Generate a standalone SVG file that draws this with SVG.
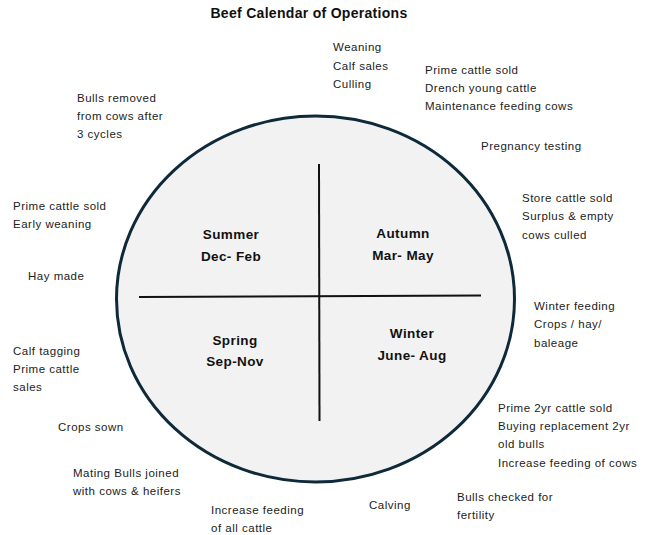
<svg xmlns="http://www.w3.org/2000/svg" width="646" height="535" viewBox="0 0 646 535">
<style>
.t{font-family:"Liberation Sans",Arial,sans-serif;font-size:11.5px;letter-spacing:0.5px;fill:#222}
.s{font-family:"Liberation Sans",Arial,sans-serif;font-size:13.5px;letter-spacing:0.4px;font-weight:bold;fill:#111;text-anchor:middle}
.h{font-family:"Liberation Sans",Arial,sans-serif;font-size:14px;letter-spacing:0.3px;font-weight:bold;fill:#111;text-anchor:middle}
.ln{stroke:#111;stroke-width:2;fill:none}
</style>
<rect width="646" height="535" fill="#ffffff"/>
<text class="h" x="309" y="18">Beef Calendar of Operations</text>
<g id="wheel">
<ellipse cx="315.5" cy="299" rx="199" ry="183" fill="#f2f2f2" stroke="#0e2a3a" stroke-width="3"/>
</g>
<g id="connectors">
<line class="ln" x1="139" y1="297" x2="481" y2="295.5"/>
<line class="ln" x1="319" y1="164" x2="319.5" y2="421"/>
</g>
<g id="summer"><text class="s" x="231" y="239">Summer</text><text class="s" x="231" y="261">Dec- Feb</text></g>
<g id="autumn"><text class="s" x="403" y="238">Autumn</text><text class="s" x="403" y="260">Mar- May</text></g>
<g id="spring"><text class="s" x="235" y="345">Spring</text><text class="s" x="235" y="366">Sep-Nov</text></g>
<g id="winter"><text class="s" x="412" y="338">Winter</text><text class="s" x="412" y="360">June- Aug</text></g>
<g id="n1"><text class="t" x="333" y="51">Weaning</text><text class="t" x="333" y="70">Calf sales</text><text class="t" x="333" y="88">Culling</text></g>
<g id="n2"><text class="t" x="425" y="74">Prime cattle sold</text><text class="t" x="425" y="92">Drench young cattle</text><text class="t" x="425" y="110">Maintenance feeding cows</text></g>
<g id="n3"><text class="t" x="77" y="102">Bulls removed</text><text class="t" x="77" y="120">from cows after</text><text class="t" x="77" y="138">3 cycles</text></g>
<g id="n4"><text class="t" x="481" y="150">Pregnancy testing</text></g>
<g id="n5"><text class="t" x="13" y="210">Prime cattle sold</text><text class="t" x="13" y="228">Early weaning</text></g>
<g id="n6"><text class="t" x="522" y="202">Store cattle sold</text><text class="t" x="522" y="220">Surplus &amp; empty</text><text class="t" x="522" y="239">cows culled</text></g>
<g id="n7"><text class="t" x="28" y="280">Hay made</text></g>
<g id="n8"><text class="t" x="534" y="310">Winter feeding</text><text class="t" x="534" y="328">Crops / hay/</text><text class="t" x="534" y="347">baleage</text></g>
<g id="n9"><text class="t" x="13" y="355">Calf tagging</text><text class="t" x="13" y="373">Prime cattle</text><text class="t" x="13" y="391">sales</text></g>
<g id="n10"><text class="t" x="498" y="412">Prime 2yr cattle sold</text><text class="t" x="498" y="430">Buying replacement 2yr</text><text class="t" x="498" y="448">old bulls</text><text class="t" x="498" y="467">Increase feeding of cows</text></g>
<g id="n11"><text class="t" x="58" y="431">Crops sown</text></g>
<g id="n12"><text class="t" x="73" y="477">Mating Bulls joined</text><text class="t" x="73" y="495">with cows &amp; heifers</text></g>
<g id="n13"><text class="t" x="369" y="509">Calving</text></g>
<g id="n14"><text class="t" x="457" y="501">Bulls checked for</text><text class="t" x="457" y="519">fertility</text></g>
<g id="n15"><text class="t" x="211" y="514">Increase feeding</text><text class="t" x="211" y="532">of all cattle</text></g>
</svg>
